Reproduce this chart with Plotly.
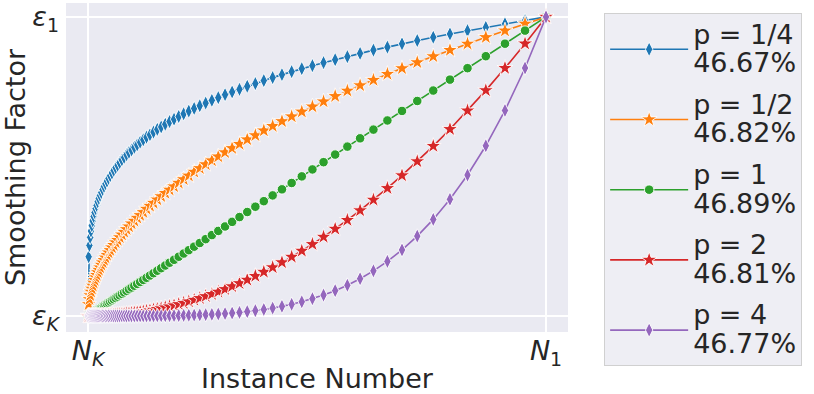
import plotly.graph_objects as go

# instance positions, normalised so that N_K = 0 and N_1 = 1
instance = [
    0.0, 0.0015, 0.0031, 0.0048, 0.0065, 0.0084, 0.0103, 0.0123, 0.0144, 0.0166,
    0.0188, 0.0212, 0.0237, 0.0264, 0.0291, 0.0320, 0.0350, 0.0382, 0.0415, 0.0449,
    0.0485, 0.0523, 0.0562, 0.0604, 0.0647, 0.0692, 0.0740, 0.0789, 0.0841, 0.0895,
    0.0952, 0.1012, 0.1074, 0.1139, 0.1207, 0.1278, 0.1353, 0.1431, 0.1513, 0.1598,
    0.1687, 0.1781, 0.1879, 0.1981, 0.2089, 0.2201, 0.2318, 0.2441, 0.2570, 0.2705,
    0.2845, 0.2993, 0.3147, 0.3308, 0.3477, 0.3654, 0.3839, 0.4032, 0.4235, 0.4447,
    0.4668, 0.4900, 0.5143, 0.5397, 0.5663, 0.5941, 0.6232, 0.6537, 0.6856, 0.7189,
    0.7538, 0.7903, 0.8286, 0.8686, 0.9104, 0.9542, 1.0,
]

# smoothing factor, normalised so that eps_K = 0 and eps_1 = 1
smooth_p_quarter = [
    0.0, 0.198, 0.236, 0.263, 0.284, 0.302, 0.318, 0.333, 0.346, 0.359,
    0.370, 0.382, 0.393, 0.403, 0.413, 0.423, 0.433, 0.442, 0.451, 0.460,
    0.469, 0.478, 0.487, 0.496, 0.504, 0.513, 0.522, 0.530, 0.539, 0.547,
    0.555, 0.564, 0.572, 0.581, 0.589, 0.598, 0.606, 0.615, 0.624, 0.632,
    0.641, 0.650, 0.658, 0.667, 0.676, 0.685, 0.694, 0.703, 0.712, 0.721,
    0.730, 0.740, 0.749, 0.758, 0.768, 0.777, 0.787, 0.797, 0.807, 0.817,
    0.827, 0.837, 0.847, 0.857, 0.867, 0.878, 0.889, 0.899, 0.910, 0.921,
    0.932, 0.943, 0.954, 0.965, 0.977, 0.988, 1.0,
]
smooth_p_half = [
    0.0, 0.039, 0.056, 0.069, 0.081, 0.091, 0.101, 0.111, 0.120, 0.129,
    0.137, 0.146, 0.154, 0.162, 0.171, 0.179, 0.187, 0.195, 0.204, 0.212,
    0.220, 0.229, 0.237, 0.246, 0.254, 0.263, 0.272, 0.281, 0.290, 0.299,
    0.309, 0.318, 0.328, 0.337, 0.347, 0.358, 0.368, 0.378, 0.389, 0.400,
    0.411, 0.422, 0.433, 0.445, 0.457, 0.469, 0.482, 0.494, 0.507, 0.520,
    0.533, 0.547, 0.561, 0.575, 0.590, 0.604, 0.620, 0.635, 0.651, 0.667,
    0.683, 0.700, 0.717, 0.735, 0.753, 0.771, 0.789, 0.809, 0.828, 0.848,
    0.868, 0.889, 0.910, 0.932, 0.954, 0.977, 1.0,
]
smooth_p_one = [
    0.0, 0.0015, 0.0031, 0.0048, 0.0065, 0.0084, 0.0103, 0.0123, 0.0144, 0.0166,
    0.0188, 0.0212, 0.0237, 0.0264, 0.0291, 0.0320, 0.0350, 0.0382, 0.0415, 0.0449,
    0.0485, 0.0523, 0.0562, 0.0604, 0.0647, 0.0692, 0.0740, 0.0789, 0.0841, 0.0895,
    0.0952, 0.1012, 0.1074, 0.1139, 0.1207, 0.1278, 0.1353, 0.1431, 0.1513, 0.1598,
    0.1687, 0.1781, 0.1879, 0.1981, 0.2089, 0.2201, 0.2318, 0.2441, 0.2570, 0.2705,
    0.2845, 0.2993, 0.3147, 0.3308, 0.3477, 0.3654, 0.3839, 0.4032, 0.4235, 0.4447,
    0.4668, 0.4900, 0.5143, 0.5397, 0.5663, 0.5941, 0.6232, 0.6537, 0.6856, 0.7189,
    0.7538, 0.7903, 0.8286, 0.8686, 0.9104, 0.9542, 1.0,
]
smooth_p_two = [
    0.0, 0.0, 0.0, 0.0, 0.0, 0.0001, 0.0001, 0.0002, 0.0002, 0.0003,
    0.0004, 0.0005, 0.0006, 0.0007, 0.0008, 0.0010, 0.0012, 0.0015, 0.0017, 0.0020,
    0.0024, 0.0027, 0.0032, 0.0036, 0.0042, 0.0048, 0.0055, 0.0062, 0.0071, 0.0080,
    0.0091, 0.0102, 0.0115, 0.0130, 0.0146, 0.0163, 0.0183, 0.0205, 0.0229, 0.0255,
    0.0285, 0.0317, 0.0353, 0.0393, 0.0436, 0.0484, 0.0538, 0.0596, 0.0660, 0.0731,
    0.0810, 0.0896, 0.0990, 0.1094, 0.1209, 0.1335, 0.1474, 0.1626, 0.1793, 0.1977,
    0.2179, 0.2401, 0.2645, 0.2913, 0.3207, 0.3530, 0.3884, 0.4273, 0.4700, 0.5169,
    0.5682, 0.6246, 0.6865, 0.7544, 0.8289, 0.9106, 1.0,
]
smooth_p_four = [
    0.0, 0.0, 0.0, 0.0, 0.0, 0.0, 0.0, 0.0, 0.0, 0.0,
    0.0, 0.0, 0.0, 0.0, 0.0, 0.0, 0.0, 0.0, 0.0, 0.0,
    0.0, 0.0, 0.0, 0.0, 0.0, 0.0, 0.0, 0.0, 0.0001, 0.0001,
    0.0001, 0.0001, 0.0001, 0.0002, 0.0002, 0.0003, 0.0003, 0.0004, 0.0005, 0.0007,
    0.0008, 0.0010, 0.0012, 0.0015, 0.0019, 0.0023, 0.0029, 0.0036, 0.0044, 0.0054,
    0.0066, 0.0080, 0.0098, 0.0120, 0.0146, 0.0178, 0.0217, 0.0264, 0.0322, 0.0391,
    0.0475, 0.0577, 0.0700, 0.0848, 0.1028, 0.1246, 0.1509, 0.1826, 0.2209, 0.2671,
    0.3229, 0.3902, 0.4713, 0.5691, 0.6871, 0.8291, 1.0,
]

series_names = [
    ("p = 1/4", "46.67%"), ("p = 1/2", "46.82%"), ("p = 1", "46.89%"),
    ("p = 2", "46.81%"), ("p = 4", "46.77%"),
]
series_values = [smooth_p_quarter, smooth_p_half, smooth_p_one, smooth_p_two, smooth_p_four]

x_tick_labels = ["<i>N</i><sub><i>K</i></sub>", "<i>N</i><sub>1</sub>"]
y_tick_labels = ["<i>ε</i><sub><i>K</i></sub>", "<i>ε</i><sub>1</sub>"]

colors = ["#1f77b4", "#ff7f0e", "#2ca02c", "#d62728", "#9467bd"]
symbols = ["diamond-tall", "star", "circle", "star", "diamond-tall"]
sizes = [10.5, 12, 9.5, 12, 10.5]

FONT = "DejaVu Sans"
TEXT = "#262626"

fig = go.Figure()
for i, ((label, acc), vals, col, sym, sz) in enumerate(
        zip(series_names, series_values, colors, symbols, sizes)):
    # legend base font is smaller than the shown text so the two lines sit tighter
    fig.add_trace(go.Scatter(
        x=instance,
        y=vals,
        mode="lines+markers",
        name=f'<span style="font-size:27px">{label}</span><br>'
             f'<span style="font-size:27px">{acc}</span>',
        legendgroup=f"g{i}",
        line=dict(color=col, width=1.6),
        marker=dict(symbol=sym, size=sz, color=col, line=dict(color="white", width=0.9)),
    ))

fig.update_layout(
    width=814,
    height=394,
    margin=dict(l=66, r=246, t=3, b=62),
    paper_bgcolor="white",
    plot_bgcolor="#EAEAF2",
    font=dict(family=FONT, size=27, color=TEXT),
    showlegend=True,
    legend=dict(
        x=1.072, y=0.969, xanchor="left", yanchor="top",
        bgcolor="#EEEEF4", bordercolor="#D0D0D0", borderwidth=1,
        font=dict(family=FONT, size=22, color=TEXT),
        itemwidth=78,
        valign="middle",
        tracegroupgap=10,
        maxheight=390,
    ),
    xaxis=dict(
        range=[-0.048, 1.048],
        tickvals=[0, 1], ticktext=x_tick_labels,
        showgrid=True, gridcolor="white", gridwidth=1.5,
        zeroline=False, showline=False, ticks="",
        automargin=False,
        title=dict(text="Instance Number", standoff=0, font=dict(size=27)),
    ),
    yaxis=dict(
        range=[-0.0535, 1.0465],
        tickvals=[0, 1], ticktext=y_tick_labels,
        showgrid=True, gridcolor="white", gridwidth=1.5,
        zeroline=False, showline=False, ticks="",
        ticklabelstandoff=6,
        automargin=False,
        title=dict(text="Smoothing Factor", standoff=7, font=dict(size=27)),
    ),
)

# the page body has a default margin; drop it so the figure sits at the top-left
fig.write_html(
    "out.html",
    config={"displayModeBar": False},
    post_script="document.body.style.margin = '0';",
)
